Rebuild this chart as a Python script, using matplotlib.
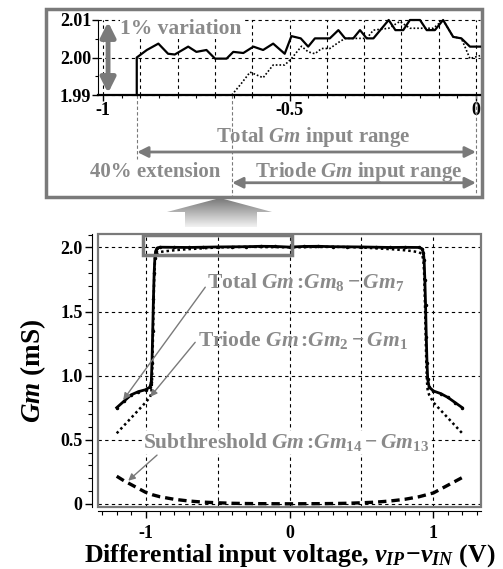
import numpy as np
import matplotlib
matplotlib.use("Agg")
import matplotlib.pyplot as plt
from matplotlib.patches import Rectangle, Polygon
from matplotlib.ticker import MultipleLocator
import matplotlib.transforms as mtransforms

plt.rcParams['font.family'] = ['Liberation Serif', 'DejaVu Serif']
plt.rcParams['font.weight'] = 'bold'
plt.rcParams['axes.labelweight'] = 'bold'
plt.rcParams['mathtext.fontset'] = 'custom'
plt.rcParams['mathtext.rm'] = 'Liberation Serif:bold'
plt.rcParams['mathtext.it'] = 'Liberation Serif:italic:bold'
plt.rcParams['mathtext.bf'] = 'Liberation Serif:bold'
plt.rcParams['mathtext.default'] = 'it'

# main chart data (V, mS)
total_v = [-1.20, -1.15, -1.10, -1.05, -1.00, -0.97, -0.96, -0.955, -0.95, -0.945, -0.94, -0.935,
           -0.93, -0.92, -0.90, -0.80, -0.70, -0.60, -0.50, -0.40, -0.30, -0.20, -0.10, 0.00,
           0.10, 0.20, 0.30, 0.40, 0.50, 0.60, 0.70, 0.80, 0.90, 0.92, 0.93, 0.935, 0.94, 0.945,
           0.95, 0.955, 0.96, 0.97, 1.00, 1.05, 1.10, 1.15, 1.20]
total_g = [0.75, 0.80, 0.85, 0.875, 0.89, 0.91, 0.95, 1.10, 1.35, 1.60, 1.80, 1.92,
           1.97, 1.995, 2.002, 2.001, 2.000, 2.002, 2.004, 2.005, 2.006, 2.009, 2.008, 2.003,
           2.008, 2.009, 2.006, 2.005, 2.004, 2.002, 2.000, 2.001, 2.000, 1.99, 1.96, 1.90, 1.75, 1.55,
           1.30, 1.10, 0.97, 0.91, 0.88, 0.86, 0.83, 0.79, 0.75]

triode_v = [-1.20, -1.15, -1.10, -1.05, -1.00, -0.97, -0.96, -0.955, -0.95, -0.945, -0.94, -0.935,
            -0.93, -0.92, -0.90, -0.85, -0.80, -0.75, -0.70, -0.65, -0.50, -0.30, 0.00, 0.30, 0.50,
            0.65, 0.70, 0.75, 0.80, 0.85, 0.90, 0.92, 0.93, 0.935, 0.94, 0.945, 0.95, 0.955, 0.96,
            0.97, 1.00, 1.05, 1.10, 1.15, 1.20]
triode_g = [0.55, 0.61, 0.67, 0.73, 0.79, 0.83, 0.86, 0.95, 1.20, 1.50, 1.75, 1.88,
            1.93, 1.955, 1.965, 1.972, 1.978, 1.983, 1.987, 1.990, 2.000, 2.005, 2.001, 2.005, 2.000,
            1.990, 1.987, 1.983, 1.978, 1.972, 1.962, 1.950, 1.90, 1.80, 1.60, 1.35, 1.10, 0.95, 0.88,
            0.85, 0.79, 0.73, 0.67, 0.61, 0.55]

sub_v = [-1.20, -1.15, -1.10, -1.05, -1.00, -0.95, -0.90, -0.80, -0.70, -0.60, -0.50, -0.40, -0.30,
         -0.20, 0.00, 0.20, 0.30, 0.40, 0.50, 0.60, 0.70, 0.80, 0.90, 0.95, 1.00, 1.05, 1.10, 1.15, 1.20]
sub_g = [0.215, 0.18, 0.15, 0.12, 0.09, 0.07, 0.055, 0.035, 0.022, 0.013, 0.008, 0.004, 0.002,
         0.001, 0.000, 0.001, 0.002, 0.004, 0.008, 0.013, 0.022, 0.035, 0.055, 0.07, 0.085, 0.115, 0.145, 0.175, 0.205]

# zoomed inset data (V, mS)
ins_total_v = [-0.910, -0.910, -0.883, -0.852, -0.826, -0.808, -0.772, -0.750, -0.723, -0.700, -0.669,
               -0.651, -0.624, -0.597, -0.571, -0.544, -0.513, -0.495, -0.470, -0.450, -0.432, -0.392,
               -0.369, -0.351, -0.329, -0.311, -0.293, -0.275, -0.234, -0.216, -0.195, -0.177, -0.150,
               -0.132, -0.110, -0.088, -0.061, -0.039, -0.016, 0.011]
ins_total_g = [1.990, 2.000, 2.0020, 2.0037, 2.0010, 2.0008, 2.0029, 2.0015, 2.0020, 1.9997, 1.9997,
               2.0015, 2.0012, 2.0029, 2.0020, 2.0037, 2.0010, 2.0057, 2.0051, 2.0029, 2.0051, 2.0051,
               2.0073, 2.0051, 2.0051, 2.0073, 2.0051, 2.0051, 2.0100, 2.0073, 2.0073, 2.0100, 2.0100,
               2.0073, 2.0073, 2.0100, 2.0055, 2.0051, 2.0029, 2.0029]

ins_triode_v = [-0.655, -0.630, -0.606, -0.571, -0.544, -0.513, -0.495, -0.468, -0.450, -0.432, -0.414,
                -0.392, -0.369, -0.351, -0.311, -0.293, -0.275, -0.234, -0.204, -0.177, -0.150, -0.114,
                -0.088, -0.061, -0.039, -0.016, 0.011]
ins_triode_g = [1.9900, 1.9930, 1.9961, 1.9946, 1.9980, 1.9980, 1.9997, 2.0030, 2.0015, 2.0010, 2.0024,
                2.0024, 2.0040, 2.0051, 2.0051, 2.0051, 2.0073, 2.0078, 2.0096, 2.0078, 2.0078, 2.0078,
                2.0100, 2.0055, 2.0051, 1.9997, 2.0005]

main_xticks = [-1, 0, 1]
main_yticks = [0, 0.5, 1.0, 1.5, 2.0]
main_ylabels = ['0', '0.5', '1.0', '1.5', '2.0']
ins_xticks = [-1, -0.5, 0]
ins_xlabels = ['-1', '-0.5', '0']
ins_yticks = [1.99, 2.00, 2.01]

GRAY = '#7a7a7a'
TXT = '#8a8a8a'

W, H = 503, 569
fig = plt.figure(figsize=(W / 100, H / 100), dpi=100)

# overlay in pixel coordinates for the frame and the big arrow
over = fig.add_axes([0, 0, 1, 1], zorder=0)
over.set_xlim(0, W)
over.set_ylim(H, 0)
over.axis('off')
over.add_patch(Rectangle((46, 9), 436, 188, fill=False, ec=GRAY, lw=2.5))
arrow_pts = [(167, 212), (220, 198), (272, 212), (257, 212), (257, 227), (185, 227), (185, 212)]
arr = Polygon(arrow_pts, closed=True, fc='none', ec='none')
over.add_patch(arr)
grad = np.linspace(0, 1, 100).reshape(-1, 1)
im = over.imshow(grad, cmap=matplotlib.colors.LinearSegmentedColormap.from_list('g', ['#6f6f6f', '#ffffff']),
                 extent=(160, 280, 230, 196), aspect='auto', interpolation='bilinear')
im.set_clip_path(arr)
over.set_xlim(0, W)
over.set_ylim(H, 0)


def px2fig(l, t, r, b):
    return [l / W, 1 - b / H, (r - l) / W, (b - t) / H]


# ---------------- main chart ----------------
ax = fig.add_axes(px2fig(98, 234, 481, 507), zorder=1)
ax.set_facecolor('none')
ax.set_xlim(-1.33, 1.33)
ax.set_ylim(-0.025, 2.105)

for y in main_yticks:
    ax.axhline(y, color='k', lw=0.8, ls=(0, (3, 3)), zorder=1)
for x in [-1, -0.5, 0, 0.5, 1]:
    ax.axvline(x, color='k', lw=0.8, ls=(0, (3, 3)), zorder=1)

ax.plot(total_v, total_g, color='k', lw=2.0, marker='o', ms=1.5, zorder=3)
ax.plot(triode_v, triode_g, color='k', lw=1.8, ls=(0, (1, 1.2)), zorder=3)
ax.plot(sub_v, sub_g, color='k', lw=2.4, ls=(0, (2.5, 1.5)), zorder=3)

ax.add_patch(Rectangle((-1.018, 1.945), 1.037, 0.155, fill=False, ec=GRAY, lw=2.5, zorder=4))

for s in ['top', 'right']:
    ax.spines[s].set_visible(False)
ax.spines['left'].set_position(('outward', 4))
ax.spines['bottom'].set_position(('outward', 3))
ax.add_patch(Rectangle((0, 0), 1, 1, transform=ax.transAxes, fill=False, ec=GRAY, lw=1.6,
                       clip_on=False, zorder=2))
ax.set_xticks(main_xticks)
ax.set_xticklabels(['-1', '0', '1'], fontweight='bold')
ax.set_yticks(main_yticks)
ax.set_yticklabels(main_ylabels, fontweight='bold')
ax.xaxis.set_minor_locator(MultipleLocator(0.1))
ax.yaxis.set_minor_locator(MultipleLocator(0.1))
ax.tick_params(which='major', direction='out', length=5, width=1, labelsize=13, pad=2)
ax.tick_params(axis='x', which='major', pad=5)
ax.tick_params(which='minor', direction='out', length=3, width=0.8)
ax.set_xlabel(r'Differential input voltage, $v_{IP}\!-\!v_{IN}$ (V)', fontsize=18.5, labelpad=0,
              fontweight='bold')
ax.set_ylabel(r'$Gm$ (mS)', fontsize=19.5, labelpad=9, fontweight='bold')

ak = dict(arrowstyle='-|>', color=GRAY, lw=1.0, mutation_scale=10, shrinkA=0, shrinkB=0)
ax.text(-0.575, 1.73, r'Total $Gm\,$:$Gm_{\mathit{8}}-Gm_{\mathit{7}}$', color=TXT, fontsize=15.5,
        va='center')
ax.annotate('', xy=(-1.155, 0.81), xytext=(-0.585, 1.69), arrowprops=ak)
ax.text(-0.635, 1.28, r'Triode $Gm\,$:$Gm_{\mathit{2}}-Gm_{\mathit{1}}$', color=TXT, fontsize=15.5,
        va='center')
ax.annotate('', xy=(-0.967, 0.835), xytext=(-0.655, 1.26), arrowprops=ak)
ax.text(-1.02, 0.48, r'Subthreshold $Gm\,$:$Gm_{\mathit{14}}-Gm_{\mathit{13}}$', color=TXT, fontsize=15.5,
        va='center', bbox=dict(fc='white', ec='none', pad=0.5))
ax.annotate('', xy=(-1.12, 0.18), xytext=(-0.92, 0.38), arrowprops=ak)

# ---------------- inset ----------------
ins = fig.add_axes(px2fig(98, 20, 480, 95), zorder=2)
ins.set_facecolor('none')
ins.set_xlim(-1.014, 0.011)
ins.set_ylim(1.99, 2.01)
for y in ins_yticks:
    ins.axhline(y, color='k', lw=0.8, ls=(0, (3, 3)), zorder=1, clip_on=False)
for x in np.arange(-1.0, 0.05, 0.1):
    ins.axvline(x, color='k', lw=0.8, ls=(0, (3, 3)), zorder=1)
ins.plot(ins_total_v, ins_total_g, color='k', lw=1.6, zorder=3, clip_on=False)
ins.plot(ins_triode_v, ins_triode_g, color='k', lw=1.2, ls=(0, (1, 1.2)), zorder=3, clip_on=False)
for s in ['top', 'right']:
    ins.spines[s].set_visible(False)
ins.spines['bottom'].set_linewidth(1.6)
ins.set_xticks(ins_xticks)
ins.set_xticklabels(ins_xlabels, fontweight='bold')
ins.set_yticks(ins_yticks)
ins.set_yticklabels(['1.99', '2.00', '2.01'], fontweight='bold')
ins.xaxis.set_minor_locator(MultipleLocator(0.05))
ins.yaxis.set_minor_locator(MultipleLocator(0.005))
ins.tick_params(which='major', direction='out', length=4, width=1, labelsize=13, pad=1)
ins.tick_params(which='minor', direction='out', length=2.5, width=0.8)

# 1% variation label and arrow
bt = mtransforms.blended_transform_factory(ins.transData, ins.transAxes)
ins.text(-0.955, 0.88, '1% variation', transform=bt,
         color=TXT, fontsize=15.5, va='center', bbox=dict(fc='white', ec='none', pad=0.3), zorder=4)
ins.annotate('', xy=(-0.987, 1.9905), xytext=(-0.987, 2.0095),
             arrowprops=dict(arrowstyle='<|-|>', color=GRAY, lw=3.5, mutation_scale=22, shrinkA=0, shrinkB=0),
             zorder=5)

# input range markers below the inset
guide = dict(color=GRAY, lw=0.8, ls=(0, (3, 2)), transform=bt, clip_on=False)
ins.plot([-0.909, -0.909], [0, -0.85], **guide)
ins.plot([-0.654, -0.654], [0, -1.36], **guide)
ins.plot([0.0, 0.0], [0, -1.32], **guide)
dbl = dict(arrowstyle='<|-|>', color=GRAY, lw=2.0, mutation_scale=16, shrinkA=0, shrinkB=0)
ins.annotate('', xy=(-0.909, -0.76), xytext=(0.0, -0.76), xycoords=bt, textcoords=bt, arrowprops=dbl,
             annotation_clip=False)
ins.annotate('', xy=(-0.654, -1.17), xytext=(0.0, -1.17), xycoords=bt, textcoords=bt, arrowprops=dbl,
             annotation_clip=False)
ins.text(-0.437, -0.56, r'Total $Gm$ input range', transform=bt, color=TXT, fontsize=15,
         ha='center', va='center')
ins.text(-0.861, -1.03, '40% extension', transform=bt, color=TXT, fontsize=15, ha='center', va='center')
ins.text(-0.314, -1.03, r'Triode $Gm$ input range', transform=bt, color=TXT, fontsize=15,
         ha='center', va='center')

fig.savefig('out.png', dpi=100)
